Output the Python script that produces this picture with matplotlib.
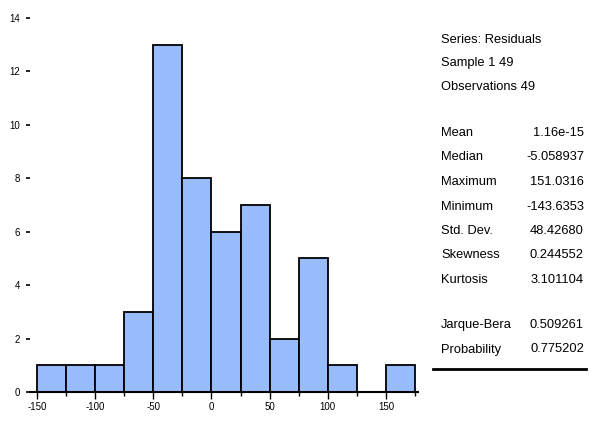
import numpy as np
import matplotlib.pyplot as plt

plt.rcParams['font.family'] = ['Liberation Sans', 'DejaVu Sans']
plt.rcParams['axes.unicode_minus'] = False

# residual histogram, bins of width 25
bin_edges = [-150, -125, -100, -75, -50, -25, 0, 25, 50, 75, 100, 125, 150, 175]
counts = [1, 1, 1, 3, 13, 8, 6, 7, 2, 5, 1, 0, 1]

header_lines = ["Series: Residuals", "Sample 1 49", "Observations 49"]
stat_names = ["Mean", "Median", "Maximum", "Minimum", "Std. Dev.", "Skewness", "Kurtosis"]
stat_values = ["1.16e-15", "-5.058937", "151.0316", "-143.6353", "48.42680", "0.244552", "3.101104"]
test_names = ["Jarque-Bera", "Probability"]
test_values = ["0.509261", "0.775202"]

W, H = 589, 422
fig = plt.figure(figsize=(W / 100, H / 100), dpi=100)
ax = fig.add_axes([30 / W, 1 - 392 / H, 388 / W, 374 / H])

lefts = np.array(bin_edges[:-1])
widths = np.diff(bin_edges)
ax.bar(lefts, counts, width=widths, align="edge", color="#99bcff",
       edgecolor="black", linewidth=1.3)

ax.set_xlim(-156, 177.6)
ax.set_ylim(0, 14)
ax.set_xticks([-150, -100, -50, 0, 50, 100, 150])
ax.set_xticks(np.arange(-125, 176, 50), minor=True)
ax.set_yticks(range(0, 15, 2))
ax.tick_params(axis="x", which="major", length=5, width=1, labelsize=7, pad=2)
ax.tick_params(axis="x", which="minor", length=3, width=1)
ax.tick_params(axis="y", length=3, width=1.2, labelsize=7, pad=4)
for side in ["top", "right", "left"]:
    ax.spines[side].set_visible(False)
ax.spines["bottom"].set_linewidth(1.5)

# statistics panel
tx = 441 / W
vx = 584 / W
fs = 9.3
ys = [40, 63, 87]
for y, s in zip(ys, header_lines):
    fig.text(tx, 1 - y / H, s, fontsize=fs, va="center", ha="left")
for i, (n, v) in enumerate(zip(stat_names, stat_values)):
    y = 1 - (133 + 24.5 * i) / H
    fig.text(tx, y, n, fontsize=fs, va="center", ha="left")
    fig.text(vx, y, v, fontsize=fs, va="center", ha="right")
for i, (n, v) in enumerate(zip(test_names, test_values)):
    y = 1 - (325 + 24.5 * i) / H
    fig.text(tx, y, n, fontsize=fs, va="center", ha="left")
    fig.text(vx, y, v, fontsize=fs, va="center", ha="right")
fig.add_artist(plt.Line2D([433 / W, 586 / W], [1 - 369 / H] * 2, color="black", linewidth=2))

fig.savefig("out.png", dpi=100)
